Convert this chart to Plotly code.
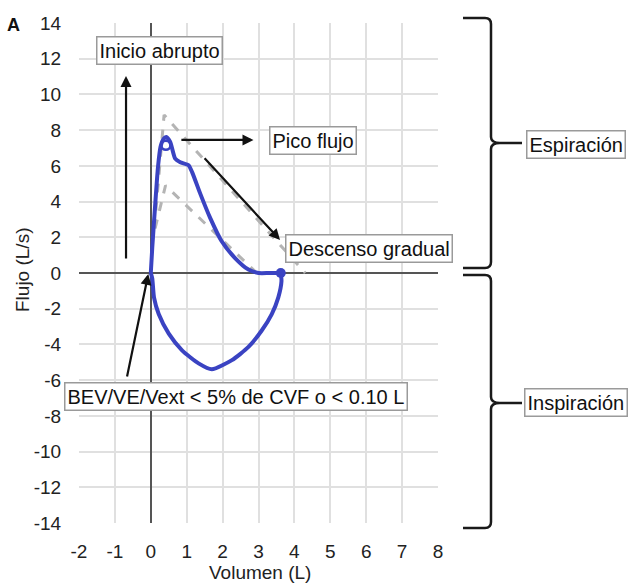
import plotly.graph_objects as go

# ---- data ----
exp_vol = [0.0, 0.04, 0.13, 0.20, 0.27, 0.35, 0.43, 0.54, 0.68, 0.82, 1.05, 1.15, 1.38, 1.65, 1.97, 2.34, 2.72, 3.0, 3.3, 3.62]
exp_flow = [0.0, 1.4, 4.05, 5.93, 7.06, 7.5, 7.62, 7.34, 6.4, 6.2, 6.03, 5.65, 4.43, 3.1, 1.79, 0.85, 0.19, 0.0, 0.0, 0.0]
insp_vol = [3.62, 3.64, 3.55, 3.37, 3.09, 2.72, 2.26, 1.70, 1.33, 0.87, 0.50, 0.22, 0.09, 0.04, 0.0]
insp_flow = [0.0, -0.46, -1.38, -2.3, -3.22, -4.14, -4.88, -5.39, -5.06, -4.33, -3.4, -2.3, -1.38, -0.3, 0.0]
upper_ref_vol = [0.10, 0.37, 4.3]
upper_ref_flow = [2.5, 8.85, 0.0]
lower_ref_vol = [0.12, 0.41, 2.95]
lower_ref_flow = [2.5, 4.9, 0.0]
peak_vol = [0.42]
peak_flow = [7.15]
end_vol = [3.62]
end_flow = [0.0]
x_ticks = list(range(-2, 9))
y_ticks = list(range(-14, 15, 2))

# ---- layout geometry (pixels) ----
W_FIG, H_FIG = 631, 583
L, T, PW, PH = 79, 23, 359, 500
R = W_FIG - L - PW
B = H_FIG - T - PH


def pp(px, py):
    """pixel -> paper coords"""
    return (px - L) / PW, (T + PH - py) / PH


FONT = "Liberation Sans, Arial, sans-serif"
BLUE = "#3a43c2"
GRAY_DASH = "#b4b4b4"

fig = go.Figure()

fig.add_trace(go.Scatter(x=upper_ref_vol, y=upper_ref_flow, mode="lines",
                         line=dict(color=GRAY_DASH, width=3, dash="dash"), hoverinfo="skip"))
fig.add_trace(go.Scatter(x=lower_ref_vol, y=lower_ref_flow, mode="lines",
                         line=dict(color=GRAY_DASH, width=3, dash="dash"), hoverinfo="skip"))
fig.add_trace(go.Scatter(x=exp_vol, y=exp_flow, mode="lines",
                         line=dict(color=BLUE, width=4, shape="spline", smoothing=0.6)))
fig.add_trace(go.Scatter(x=insp_vol, y=insp_flow, mode="lines",
                         line=dict(color=BLUE, width=4, shape="spline", smoothing=0.6)))
fig.add_trace(go.Scatter(x=peak_vol, y=peak_flow, mode="markers",
                         marker=dict(symbol="circle-open", size=9, color=BLUE, line=dict(width=2.5, color=BLUE))))
fig.add_trace(go.Scatter(x=end_vol, y=end_flow, mode="markers",
                         marker=dict(symbol="circle", size=10, color=BLUE)))

annotations = []


def box(text, px, py):
    x, y = pp(px, py)
    annotations.append(dict(text=text, x=x, y=y, xref="paper", yref="paper",
                            showarrow=False, xanchor="center", yanchor="middle",
                            font=dict(family=FONT, size=20, color="#111"),
                            bgcolor="white", bordercolor="#9a9a9a", borderwidth=1.5,
                            borderpad=2))


def arrow(x0, y0, x1, y1):
    annotations.append(dict(x=x1, y=y1, ax=x0, ay=y0, xref="x", yref="y",
                            axref="x", ayref="y", text="", showarrow=True,
                            arrowhead=2, arrowsize=1, arrowwidth=2.2, arrowcolor="#111"))


arrow(-0.69, 0.73, -0.69, 11.03)
arrow(0.81, 7.45, 2.86, 7.45)
arrow(1.46, 6.51, 3.60, 1.85)
arrow(-0.67, -5.88, -0.07, -0.05)

box("Inicio abrupto", 159.5, 50.5)
box("Pico flujo", 313.3, 140.8)
box("Descenso gradual", 368.7, 248.5)
box("BEV/VE/Vext &lt; 5% de CVF o &lt; 0.10 L", 235.5, 396.3)
box("Espiración", 576, 144.7)
box("Inspiración", 576, 402.5)

# axis titles and panel letter
x, y = pp(260, 572)
annotations.append(dict(text="Volumen (L)", x=x, y=y, xref="paper", yref="paper", showarrow=False,
                        xanchor="center", yanchor="middle", font=dict(family=FONT, size=19, color="#222")))
x, y = pp(22, 270)
annotations.append(dict(text="Flujo (L/s)", x=x, y=y, xref="paper", yref="paper", showarrow=False,
                        textangle=-90, xanchor="center", yanchor="middle",
                        font=dict(family=FONT, size=19, color="#222")))
x, y = pp(13, 25)
annotations.append(dict(text="<b>A</b>", x=x, y=y, xref="paper", yref="paper", showarrow=False,
                        xanchor="center", yanchor="middle", font=dict(family=FONT, size=18, color="#111")))


shapes = []


# braces
def brace(top, bottom, tip):
    xl, xv, xt, xb = 463, 491, 500, 522
    pts = [
        ("M", xl, top), ("L", xv - 6, top), ("Q", xv, top, xv, top + 6),
        ("L", xv, tip - 6), ("Q", xv, tip, xt, tip), ("Q", xv, tip, xv, tip + 6),
        ("L", xv, bottom - 6), ("Q", xv, bottom, xv - 6, bottom), ("L", xl, bottom),
    ]
    parts = []
    for p in pts:
        cmd = p[0]
        coords = p[1:]
        s = cmd
        for i in range(0, len(coords), 2):
            a, b = pp(coords[i], coords[i + 1])
            s += f" {a:.5f},{b:.5f}"
        parts.append(s)
    path = " ".join(parts)
    shapes.append(dict(type="path", path=path, xref="paper", yref="paper",
                       line=dict(color="#1a1a1a", width=2.5)))
    a0, b0 = pp(xt, tip)
    a1, b1 = pp(xb, tip)
    shapes.append(dict(type="line", x0=a0, y0=b0, x1=a1, y1=b1, xref="paper", yref="paper",
                       line=dict(color="#1a1a1a", width=2.5)))


brace(18, 268, 143)
brace(275, 528, 403)

fig.update_layout(
    width=W_FIG, height=H_FIG,
    margin=dict(l=L, r=R, t=T, b=B),
    paper_bgcolor="white", plot_bgcolor="white",
    showlegend=False,
    annotations=annotations,
    shapes=shapes,
    xaxis=dict(range=[-2, 8], tickvals=x_ticks, ticktext=[str(v) for v in x_ticks],
               showgrid=True, gridcolor="#e0e0e0", gridwidth=1.5,
               zeroline=True, zerolinecolor="#555", zerolinewidth=2,
               showline=False, ticks="outside", ticklen=11, tickcolor="rgba(0,0,0,0)",
               tickfont=dict(family=FONT, size=19, color="#222"), fixedrange=True),
    yaxis=dict(range=[-14, 14], tickvals=y_ticks, ticktext=[str(v) for v in y_ticks],
               showgrid=True, gridcolor="#e0e0e0", gridwidth=1.5,
               zeroline=True, zerolinecolor="#555", zerolinewidth=2,
               showline=False, ticks="outside", ticklen=13, tickcolor="rgba(0,0,0,0)",
               tickfont=dict(family=FONT, size=19, color="#222"), fixedrange=True),
)

fig.write_html("out.html")
